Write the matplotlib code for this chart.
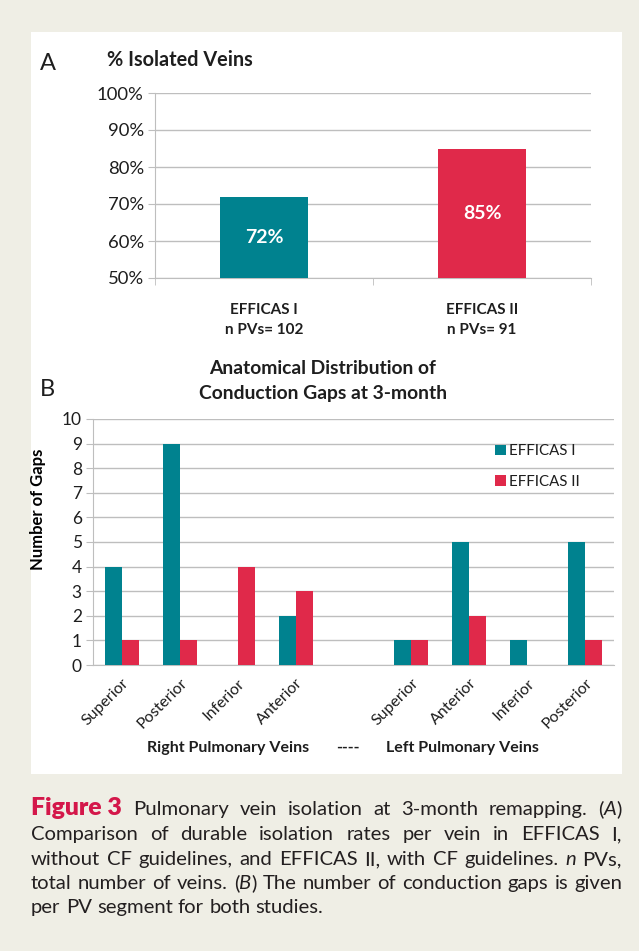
import matplotlib
matplotlib.use("Agg")
import matplotlib.pyplot as plt
from matplotlib.patches import Rectangle
import numpy as np

# ---- data -------------------------------------------------------------
studies = ["EFFICAS I", "EFFICAS II"]
study_n_pvs = [102, 91]
isolated_pct = [72, 85]

segments = ["Superior", "Posterior", "Inferior", "Anterior", "",
            "Superior", "Anterior", "Inferior", "Posterior"]
gaps_efficas1 = [4, 9, 0, 2, 0, 1, 5, 1, 5]
gaps_efficas2 = [1, 1, 4, 3, 0, 1, 2, 0, 1]

pct_ticks = [50, 60, 70, 80, 90, 100]
gap_ticks = list(range(0, 11))

# ---- style ------------------------------------------------------------
W, H = 639, 951
TEAL = "#00828F"
RED = "#E0294A"
CRIMSON = "#D4174A"
BEIGE = "#EFEEE5"
GRID = "#BEBEBE"
TEXT = "#1E1E1E"
FONT = ["Lato", "DejaVu Sans"]
plt.rcParams["font.family"] = FONT
plt.rcParams["text.color"] = TEXT
plt.rcParams["xtick.color"] = TEXT
plt.rcParams["ytick.color"] = TEXT


def fx(x):
    return x / W


def fy(y):
    return 1 - y / H


def axes_box(left, top, right, bottom):
    return [fx(left), fy(bottom), (right - left) / W, (bottom - top) / H]


fig = plt.figure(figsize=(W / 100, H / 100), dpi=100)
fig.patch.set_facecolor(BEIGE)
fig.add_artist(Rectangle((fx(31), fy(774)), (622 - 31) / W, (774 - 32) / H,
                         transform=fig.transFigure, facecolor="white",
                         edgecolor="none", zorder=0))

# ---- panel A ----------------------------------------------------------
axA = fig.add_axes(axes_box(155, 93, 591, 278))
xa = np.arange(len(studies))
axA.bar(xa, [v - 50 for v in isolated_pct], bottom=50, width=0.4,
        color=[TEAL, RED], zorder=3)
for x, v in zip(xa, isolated_pct):
    axA.text(x, (50 + v) / 2, f"{v}%", ha="center", va="center",
             color="white", fontsize=14, fontweight="bold", zorder=4)
axA.set_xlim(-0.5, 1.5)
axA.set_ylim(50, 100)
axA.set_yticks(pct_ticks)
axA.set_yticklabels([f"{t}%" for t in pct_ticks], fontsize=13.3)
axA.set_xticks(xa)
axA.set_xticklabels([f"{s}\nn PVs= {n}" for s, n in zip(studies, study_n_pvs)],
                    fontsize=11, fontweight="bold", linespacing=1.55)
axA.set_xticks([-0.5, 0.5, 1.5], minor=True)
axA.tick_params(axis="x", which="major", length=0, pad=18)
axA.tick_params(axis="x", which="minor", length=5, color=GRID, direction="out")
axA.tick_params(axis="y", length=5, color=GRID, pad=3)
axA.grid(axis="y", color=GRID, lw=1, zorder=0)
for s in ["top", "right"]:
    axA.spines[s].set_visible(False)
for s in ["left", "bottom"]:
    axA.spines[s].set_color(GRID)
fig.text(fx(40), fy(63), "A", fontsize=17, ha="left", va="center")
fig.text(fx(107), fy(59.5), "% Isolated Veins", fontsize=14.3,
         fontweight="bold", ha="left", va="center")

# ---- panel B ----------------------------------------------------------
axB = fig.add_axes(axes_box(93, 419, 614, 665))
xb = np.arange(len(segments))
bw = 0.294
axB.bar(xb - bw / 2, gaps_efficas1, width=bw, color=TEAL, zorder=3,
        label="EFFICAS I")
axB.bar(xb + bw / 2, gaps_efficas2, width=bw, color=RED, zorder=3,
        label="EFFICAS II")
axB.set_xlim(-0.5, len(segments) - 0.5)
axB.set_ylim(0, 10)
axB.set_yticks(gap_ticks)
axB.tick_params(axis="y", labelsize=12.5, length=5, color=GRID, pad=3)
axB.set_xticks(xb)
axB.set_xticklabels(segments, rotation=45, ha="right", rotation_mode="anchor",
                    fontsize=11.5)
axB.tick_params(axis="x", length=0, pad=8)
axB.grid(axis="y", color=GRID, lw=1, zorder=0)
for s in ["top", "right"]:
    axB.spines[s].set_visible(False)
for s in ["left", "bottom"]:
    axB.spines[s].set_color(GRID)
axB.set_ylabel("Number of Gaps", fontsize=12, fontweight="bold")
axB.yaxis.set_label_coords((46 - 93) / 521, (665 - 509) / 246)
axB.legend(loc="upper left", bbox_to_anchor=(fx(495), fy(444)),
           bbox_transform=fig.transFigure, frameon=False, fontsize=10.8,
           handlelength=0.7, handleheight=0.7, handletextpad=0.25,
           labelspacing=1.1, borderaxespad=0, borderpad=0)

fig.text(fx(40), fy(390), "B", fontsize=17, ha="left", va="center")
fig.text(fx(323), fy(369), "Anatomical Distribution of", fontsize=13.9,
         fontweight="bold", ha="center", va="center")
fig.text(fx(323), fy(393), "Conduction Gaps at 3-month", fontsize=13.9,
         fontweight="bold", ha="center", va="center")
fig.text(fx(228), fy(748), "Right Pulmonary Veins", fontsize=11.5,
         fontweight="bold", ha="center", va="center")
fig.text(fx(348), fy(748), "----", fontsize=11.5,
         fontweight="bold", ha="center", va="center")
fig.text(fx(462), fy(748), "Left Pulmonary Veins", fontsize=11.5,
         fontweight="bold", ha="center", va="center")

# ---- caption (justified) ---------------------------------------------
CAP_FS = 14.6
CAP_COLOR = "#231F20"
caption = [
    ([[("Figure 3", "b")], [("Pulmonary", "n")], [("vein", "n")],
      [("isolation", "n")], [("at", "n")], [("3-month", "n")],
      [("remapping.", "n")], [("(", "n"), ("A", "i"), (")", "n")]], 815, True),
    ([[("Comparison", "n")], [("of", "n")], [("durable", "n")],
      [("isolation", "n")], [("rates", "n")], [("per", "n")], [("vein", "n")],
      [("in", "n")], [("EFFICAS", "n")], [("I,", "n")]], 840, True),
    ([[("without", "n")], [("CF", "n")], [("guidelines,", "n")], [("and", "n")],
      [("EFFICAS", "n")], [("II,", "n")], [("with", "n")], [("CF", "n")],
      [("guidelines.", "n")], [("n", "i")], [("PVs,", "n")]], 865, True),
    ([[("total", "n")], [("number", "n")], [("of", "n")], [("veins.", "n")],
      [("(", "n"), ("B", "i"), (")", "n")], [("The", "n")], [("number", "n")],
      [("of", "n")], [("conduction", "n")], [("gaps", "n")], [("is", "n")],
      [("given", "n")]], 889, True),
    ([[("per", "n")], [("PV", "n")], [("segment", "n")], [("for", "n")],
      [("both", "n")], [("studies.", "n")]], 913, False),
]

renderer = fig.canvas.get_renderer()
X0, X1 = 31, 622
for li, (words, base_y, justify) in enumerate(caption):
    word_parts = []
    word_widths = []
    for wi, word in enumerate(words):
        parts = []
        width = 0.0
        for txt, st in word:
            is_label = li == 0 and wi == 0
            t = fig.text(0, 0, txt, fontsize=CAP_FS + (3.2 if is_label else 0),
                         fontweight=("heavy" if is_label else
                                     "bold" if st == "b" else "normal"),
                         fontstyle="italic" if st == "i" else "normal",
                         color=CRIMSON if is_label else CAP_COLOR,
                         ha="left", va="baseline")
            ext = t.get_window_extent(renderer)
            parts.append((t, width))
            width += ext.width
        word_parts.append(parts)
        word_widths.append(width)
    space = 0.26 * CAP_FS * 100 / 72
    if justify and len(words) > 1:
        space = (X1 - X0 - sum(word_widths)) / (len(words) - 1)
    x = X0
    for parts, w in zip(word_parts, word_widths):
        for t, off in parts:
            t.set_position((fx(x + off), fy(base_y)))
        x += w + space

fig.savefig("out.png", dpi=100, facecolor=BEIGE)
